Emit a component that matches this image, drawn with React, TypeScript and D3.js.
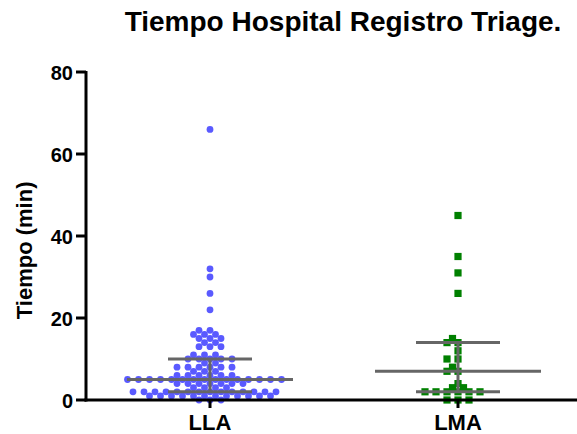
import React from 'react';
import * as d3 from 'd3';

const title = 'Tiempo Hospital Registro Triage.';
const yLabel = 'Tiempo (min)';
const groups = ['LLA', 'LMA'];
const yTicks = [0, 20, 40, 60, 80];

// minutes per patient
const llaValues = [
  0, 0, 0,
  1, 1, 1, 1, 1, 1, 1, 1, 1, 1, 1, 1,
  2, 2, 2, 2, 2, 2, 2, 2, 2, 2, 2, 2, 2, 2,
  3, 3, 3, 3,
  4, 4, 4, 4, 4, 4, 4,
  5, 5, 5, 5, 5, 5, 5, 5, 5, 5, 5, 5, 5, 5, 5,
  6, 6, 6, 6, 6, 6,
  7, 7, 7,
  8, 8, 8, 8, 8, 8,
  9, 9,
  10, 10, 10, 10, 10,
  11, 11, 11,
  13, 13, 13,
  14, 14,
  15, 15, 15,
  16, 16, 16,
  17, 17,
  22, 26, 30, 32, 66,
];
const lmaValues = [0, 0, 0, 2, 2, 2, 2, 2, 2, 3, 3, 4, 7, 7, 8, 10, 10, 12, 14, 14, 15, 26, 31, 35, 45];

// median with interquartile range, as shown
const medians = [5, 7];
const q1s = [2, 2];
const q3s = [10, 14];

const W = 577, H = 434;

// greedy beeswarm in pixel space, slots on a half-dot grid
function swarm(values: number[], y: (v: number) => number, minDist: number, step: number) {
  const placed: { v: number; dx: number; py: number }[] = [];
  const sorted = [...values].sort((a, b) => a - b);
  sorted.forEach((v) => {
    const py = y(v);
    for (let k = 0; k < 200; k++) {
      const m = Math.ceil(k / 2) * (k % 2 === 1 ? -1 : 1);
      const dx = m * step;
      const hit = placed.some((p) => Math.hypot(p.dx - dx, p.py - py) < minDist);
      if (!hit) {
        placed.push({ v, dx, py });
        break;
      }
    }
  });
  return placed;
}

export default function App() {
  const x = d3.scalePoint<string>().domain(groups).range([86, 582]).padding(0.5);
  const y = d3.scaleLinear().domain([0, 80]).range([400, 72]);

  const lla = swarm(llaValues, y, 6.8, 5.5);
  const lma = swarm(lmaValues, y, 6.8, 5.5);
  const font = "Arial, 'Liberation Sans', sans-serif";

  return (
    <svg width={W} height={H} style={{ position: 'absolute', left: 0, top: 0, background: '#fff' }}
      fontFamily={font} fontWeight="bold">
      <text x={343} y={31} textAnchor="middle" fontSize={28}>{title}</text>
      <text transform={`translate(32,${y(36.5)}) rotate(-90)`} textAnchor="middle" fontSize={22}>{yLabel}</text>

      {lla.map((p, i) => (
        <circle key={'a' + i} cx={x('LLA')! + p.dx} cy={p.py} r={3.4} fill="#5a5aff" />
      ))}
      {lma.map((p, i) => (
        <rect key={'b' + i} x={x('LMA')! + p.dx - 3.6} y={p.py - 3.6} width={7.2} height={7.2} fill="#008000" />
      ))}

      {groups.map((g, i) => {
        const cx = x(g)!;
        return (
          <g key={g} stroke="#666" strokeWidth={3}>
            <line x1={cx} x2={cx} y1={y(q1s[i])} y2={y(q3s[i])} />
            <line x1={cx - 83} x2={cx + 83} y1={y(medians[i])} y2={y(medians[i])} />
            <line x1={cx - 42} x2={cx + 42} y1={y(q3s[i])} y2={y(q3s[i])} />
            <line x1={cx - 42} x2={cx + 42} y1={y(q1s[i])} y2={y(q1s[i])} />
          </g>
        );
      })}

      <g stroke="#000" strokeWidth={3}>
        <line x1={86} x2={86} y1={y(80) - 1} y2={y(0) + 1.5} />
        <line x1={84.5} x2={577} y1={y(0)} y2={y(0)} />
        {yTicks.map((t) => (
          <line key={t} x1={76} x2={86} y1={y(t)} y2={y(t)} />
        ))}
        {groups.map((g) => (
          <line key={g} x1={x(g)!} x2={x(g)!} y1={y(0)} y2={y(0) + 8} />
        ))}
      </g>
      {yTicks.map((t) => (
        <text key={t} x={73} y={y(t) + 7.5} textAnchor="end" fontSize={20}>{t}</text>
      ))}
      {groups.map((g) => (
        <text key={g} x={x(g)!} y={430} textAnchor="middle" fontSize={22}>{g}</text>
      ))}
    </svg>
  );
}
